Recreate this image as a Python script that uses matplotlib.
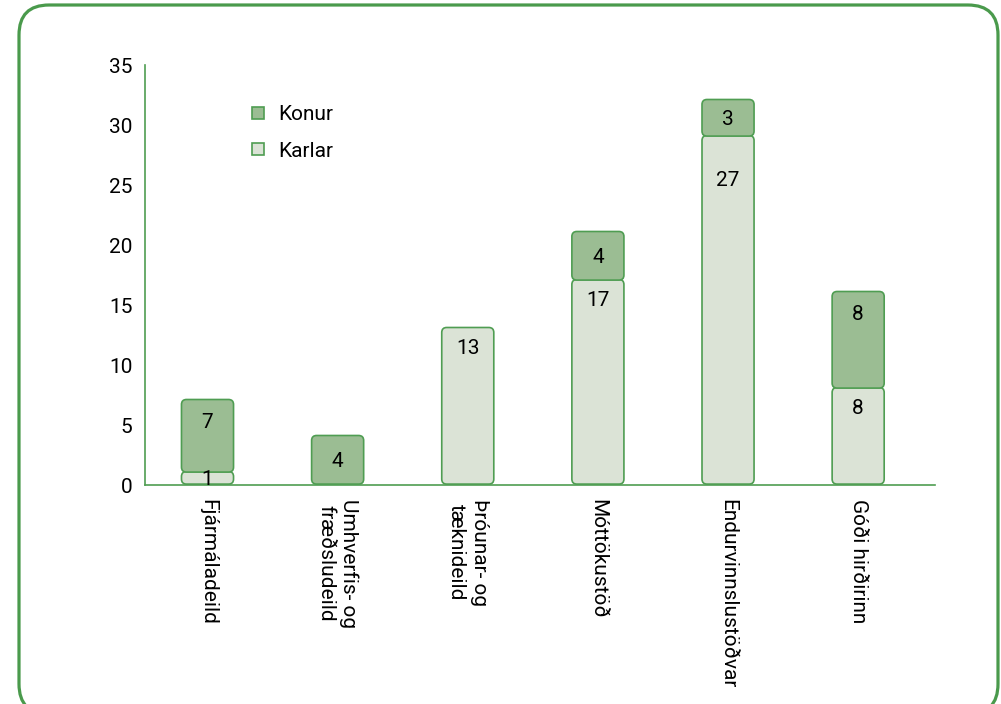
import matplotlib.pyplot as plt
from matplotlib.patches import FancyBboxPatch
from matplotlib.lines import Line2D

plt.rcParams['font.family'] = ['Roboto', 'DejaVu Sans']

categories = ['Fjármáladeild', 'Umhverfis- og\nfræðsludeild', 'Þróunar- og\ntæknideild',
              'Móttökustöð', 'Endurvinnslustöðvar', 'Góði hirðirinn']
karlar = [1, 0, 13, 17, 29, 8]
konur = [6, 4, 0, 4, 3, 8]
karlar_labels = ['1', '', '13', '17', '27', '8']
konur_labels = ['7', '4', '', '4', '3', '8']
yticks = [0, 5, 10, 15, 20, 25, 30, 35]

dark = '#9bbd93'
light = '#dbe3d6'
edge = '#4f9d52'
fs = 15

fig = plt.figure(figsize=(10.01, 7.04), dpi=100)
ax = fig.add_axes([0.1449, 0.311, 0.7891, 0.5966])
ax.set_xlim(-0.48, 5.59)
ax.set_ylim(0, 35)

w = 0.4
# pixel size of one unit in x and y, so the rounded corners look round
px_x = 0.7891 * 1001 / (5.59 + 0.48)
px_y = 0.5966 * 704 / 35
asp = px_x / px_y
rs = 5 / px_x


def rbar(x, y0, h, color):
    p = FancyBboxPatch((x - w / 2, y0 + 0.08), w, h + 0.05,
                       boxstyle=f'round,pad=0,rounding_size={rs}',
                       mutation_aspect=asp, fc=color, ec=edge, lw=1.2, zorder=3)
    ax.add_patch(p)


for i in range(len(categories)):
    if karlar[i] > 0:
        rbar(i, 0, karlar[i], light)
        if karlar[i] <= 4.5:
            ty = karlar[i] / 2
        else:
            ty = float(karlar_labels[i]) - 1.6
        ax.text(i, ty, karlar_labels[i], ha='center', va='center', fontsize=fs, zorder=4)
    if konur[i] > 0:
        rbar(i, karlar[i], konur[i], dark)
        if konur[i] <= 4.5:
            ty = karlar[i] + konur[i] / 2
        else:
            ty = karlar[i] + konur[i] - 1.8
        ax.text(i, ty, konur_labels[i], ha='center', va='center', fontsize=fs, zorder=4)

ax.set_xticks(range(len(categories)))
ax.set_xticklabels(categories, rotation=-90, va='top', ha='center', fontsize=fs,
                   linespacing=1.25)
ax.set_yticks(yticks)
ax.tick_params(axis='both', length=0, labelsize=fs)
ax.tick_params(axis='y', pad=9)
ax.tick_params(axis='x', pad=10)

for s in ['top', 'right']:
    ax.spines[s].set_visible(False)
for s in ['left', 'bottom']:
    ax.spines[s].set_color(edge)
    ax.spines[s].set_linewidth(1.2)

handles = [Line2D([], [], ls='none', marker='s', ms=9, mfc=dark, mec=edge, mew=1.2),
           Line2D([], [], ls='none', marker='s', ms=9, mfc=light, mec=edge, mew=1.2)]
ax.legend(handles, ['Konur', 'Karlar'], loc='upper left', bbox_to_anchor=(0.10, 0.95),
          frameon=False, fontsize=fs, handletextpad=0.2, labelspacing=0.85,
          handlelength=1.5)

border = FancyBboxPatch((19 / 1001, -10 / 704), 979 / 1001, 709 / 704,
                        boxstyle='round,pad=0,rounding_size=0.03',
                        mutation_aspect=1001 / 704,
                        transform=fig.transFigure, fc='none', ec='#4a9a4c', lw=2.3)
fig.patches.append(border)

fig.savefig('out.png', dpi=100)
